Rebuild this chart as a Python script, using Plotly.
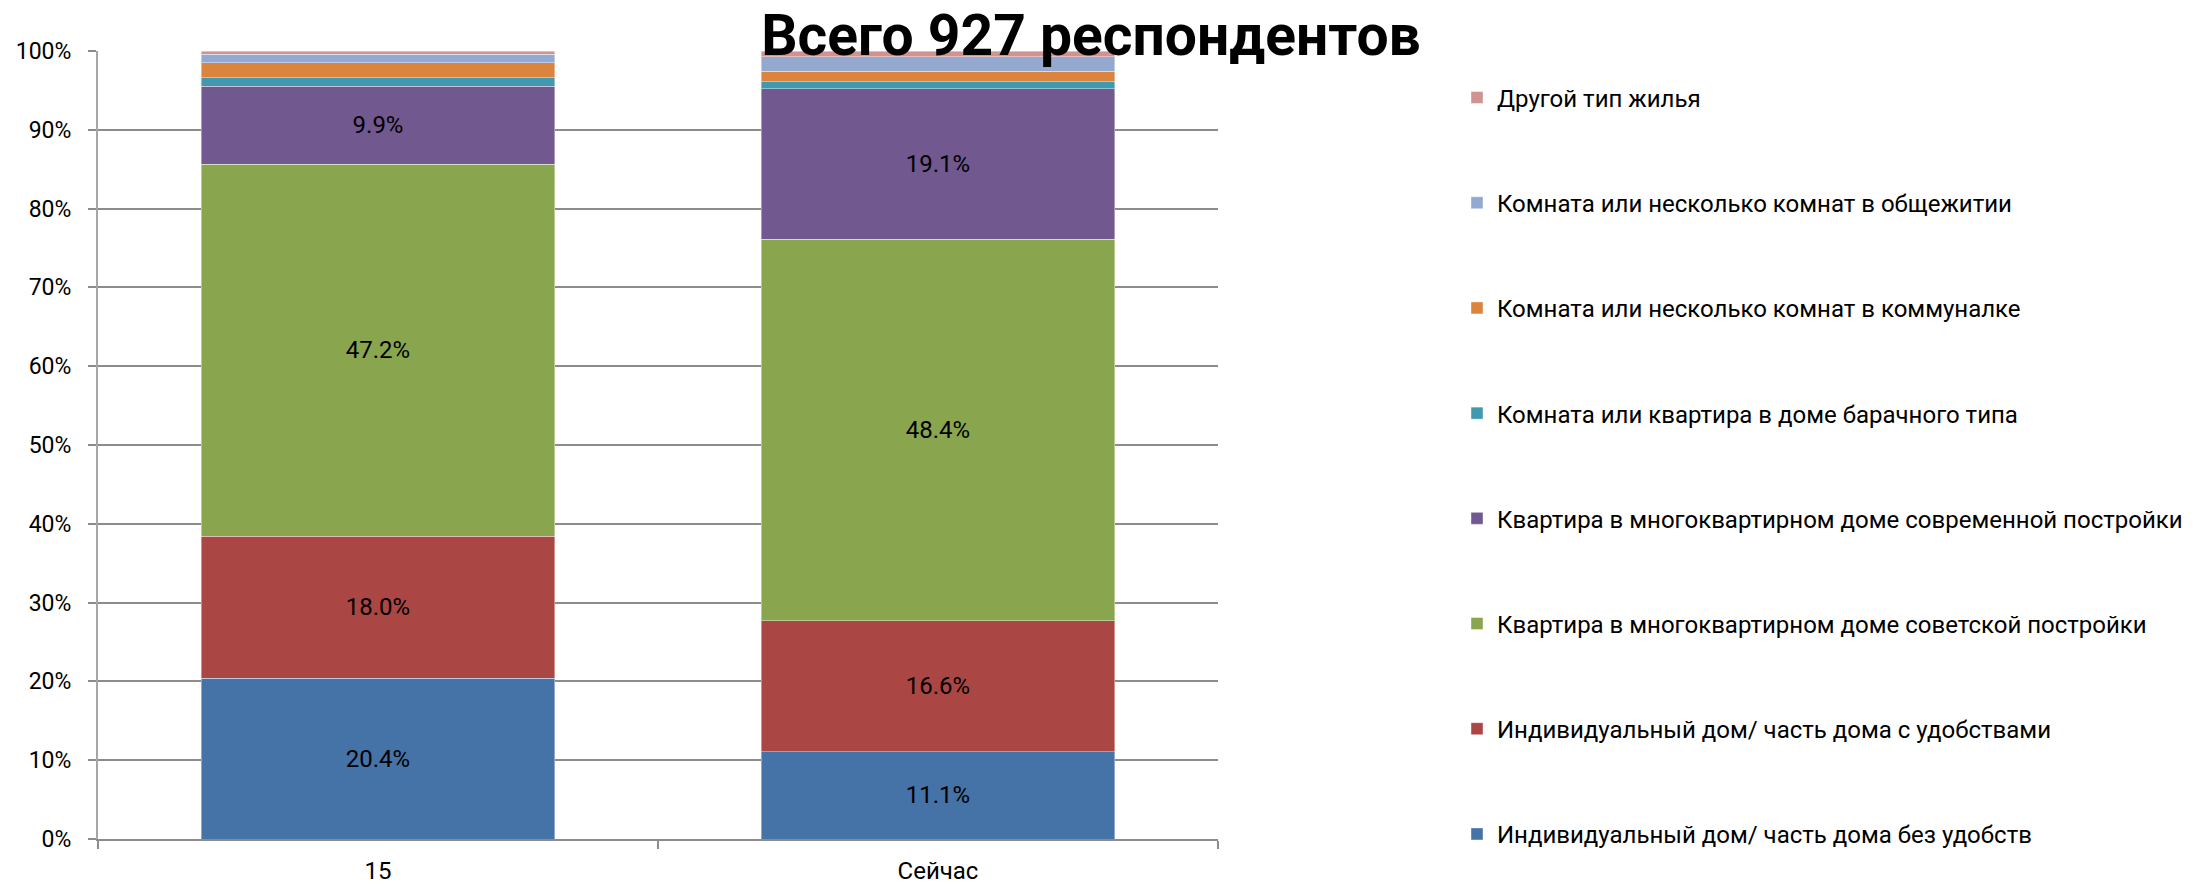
import plotly.graph_objects as go

categories = ["15", "Сейчас"]

series_names = [
    "Индивидуальный дом/ часть дома без удобств",
    "Индивидуальный дом/ часть дома с удобствами",
    "Квартира в многоквартирном доме советской постройки",
    "Квартира в многоквартирном доме современной постройки",
    "Комната или квартира в доме барачного типа",
    "Комната или несколько комнат в коммуналке",
    "Комната или несколько комнат в общежитии",
    "Другой тип жилья",
]

ind_no_amenities = [20.4, 11.1]
ind_amenities = [18.0, 16.6]
soviet_flat = [47.2, 48.4]
modern_flat = [9.9, 19.1]
barrack = [1.1, 0.9]
communal = [1.9, 1.3]
dormitory = [1.1, 1.9]
other = [0.4, 0.7]

series_values = [ind_no_amenities, ind_amenities, soviet_flat, modern_flat,
                 barrack, communal, dormitory, other]
show_labels = [True, True, True, True, False, False, False, False]

colors = ["#4572A7", "#AA4643", "#89A54E", "#71588F",
          "#4198AF", "#DB843D", "#93A9CF", "#D19392"]

FONT = "Roboto, 'Open Sans', sans-serif"

# page body has an 8px margin; the figure is sized/positioned to compensate
OFF = 8
W, H = 2208 - OFF, 884 - OFF

fig = go.Figure()
n = len(series_names)
for i, (name, vals) in enumerate(zip(series_names, series_values)):
    fig.add_trace(go.Bar(
        name=name,
        x=categories,
        y=vals,
        marker=dict(color=colors[i], line=dict(color="rgba(255,255,255,0.5)", width=0.8)),
        text=[f"{v:.1f}%" for v in vals] if show_labels[i] else None,
        textposition="inside" if show_labels[i] else "none",
        insidetextanchor="middle",
        textangle=0,
        textfont=dict(family=FONT, size=24, color="black"),
        legendgroup=f"g{i}",
        legendrank=n - i,
        hoverinfo="name+y",
    ))

fig.update_layout(
    width=W,
    height=H,
    barmode="stack",
    bargap=0.368,
    plot_bgcolor="white",
    paper_bgcolor="white",
    margin=dict(l=98 - OFF, r=W - (1218 - OFF), t=51 - OFF, b=H - (839 - OFF), autoexpand=False),
    font=dict(family=FONT, size=23, color="black"),
    uniformtext=dict(minsize=20, mode="show"),
    title=dict(
        text="<b>Всего 927 респондентов</b>",
        font=dict(family=FONT, size=57, color="black"),
        x=(1091 - OFF) / W, xanchor="center", xref="container",
        y=1 - (35 - OFF) / H, yanchor="middle", yref="container",
    ),
    legend=dict(
        traceorder="grouped",
        tracegroupgap=71,
        x=(1457 - 98) / 1120, xanchor="left",
        y=0.969, yanchor="top",
        font=dict(family=FONT, size=24, color="black"),
        bgcolor="rgba(0,0,0,0)",
        maxheight=870,
    ),
    showlegend=True,
)

fig.update_xaxes(
    type="category",
    showgrid=False,
    showline=True, linecolor="#8c8c8c", linewidth=2,
    ticks="outside", tickson="boundaries", ticklen=8, tickcolor="#8c8c8c", tickwidth=2,
    tickfont=dict(family=FONT, size=24, color="black"),
    ticklabelstandoff=9,
)
fig.update_yaxes(
    range=[0, 100],
    dtick=10,
    ticksuffix="%",
    showgrid=True, gridcolor="#8c8c8c", gridwidth=1.5,
    showline=True, linecolor="#a6a6a6", linewidth=2,
    ticks="outside", ticklen=8, tickcolor="#8c8c8c", tickwidth=2,
    tickfont=dict(family=FONT, size=23, color="black"),
    ticklabelstandoff=12,
    zeroline=False,
)

fig.write_html("out.html")
